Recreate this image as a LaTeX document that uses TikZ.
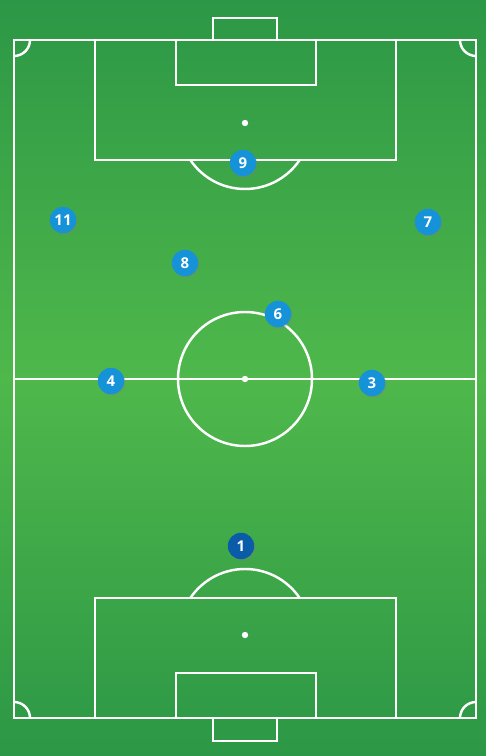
\documentclass[tikz,border=0pt]{standalone}
\usepackage{fontspec}
\setsansfont{Open Sans}
\usepackage{tikz}
\usetikzlibrary{shadows}
\definecolor{pitchdark}{HTML}{2C9746}
\definecolor{pitchlight}{HTML}{4FB84B}
\definecolor{playerblue}{HTML}{1592D8}
\definecolor{keeperblue}{HTML}{0A5CA8}

\begin{document}
\begin{tikzpicture}[x=0.02cm, y=-0.02cm,
    pitchline/.style={draw=white, line width=1.4pt},
    player/.style={circle, fill=playerblue, minimum size=0.53cm, inner sep=0pt, text=white, font=\sffamily\bfseries\fontsize{8.5}{9}\selectfont, drop shadow={shadow xshift=0.7pt, shadow yshift=-0.9pt, opacity=0.35}}
]
    % grass
    \shade[top color=pitchdark, bottom color=pitchdark, middle color=pitchlight] (0,0) rectangle (486,756);

    % outline, halfway line, centre
    \draw[pitchline] (14,40) rectangle (476,718);
    \draw[pitchline] (14,379) -- (476,379);
    \draw[pitchline] (245,379) circle[radius=67];
    \fill[white] (245,379) circle[radius=3.2];

    % top end
    \draw[pitchline] (95,40) rectangle (396,160);
    \draw[pitchline] (176,40) rectangle (316,85);
    \draw[pitchline] (213,40) rectangle (277,18);
    \fill[white] (245,123) circle[radius=3.2];
    \begin{scope}
        \clip (0,160) rectangle (486,379);
        \draw[pitchline] (245,123) circle[radius=66];
    \end{scope}

    % bottom end
    \draw[pitchline] (95,598) rectangle (396,718);
    \draw[pitchline] (176,673) rectangle (316,718);
    \draw[pitchline] (213,718) rectangle (277,741);
    \fill[white] (245,635) circle[radius=3.2];
    \begin{scope}
        \clip (0,379) rectangle (486,598);
        \draw[pitchline] (245,635) circle[radius=66];
    \end{scope}

    % corners
    \draw[pitchline] (30,40) arc[start angle=0, end angle=90, radius=16];
    \draw[pitchline] (476,56) arc[start angle=90, end angle=180, radius=16];
    \draw[pitchline] (14,702) arc[start angle=-90, end angle=0, radius=16];
    \draw[pitchline] (460,718) arc[start angle=180, end angle=270, radius=16];

    % players
    \node[player] (p9) at (243,163) {9};
    \node[player] (p11) at (63,220) {11};
    \node[player] (p7) at (428,222) {7};
    \node[player] (p8) at (185,263) {8};
    \node[player] (p6) at (278,314) {6};
    \node[player] (p4) at (111,381) {4};
    \node[player] (p3) at (372,383) {3};
    \node[player, fill=keeperblue] (p1) at (241,546) {1};
\end{tikzpicture}
\end{document}
